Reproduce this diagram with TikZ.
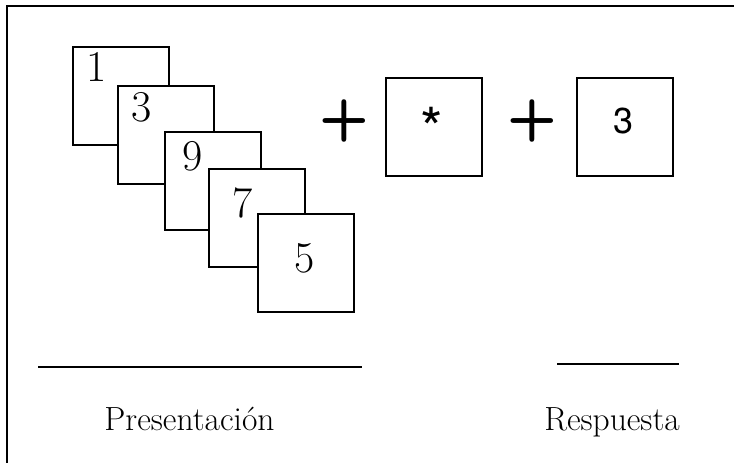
\documentclass[tikz,border=0pt]{standalone}
\usepackage{fontspec}
\newfontfamily\heros{TeX Gyre Heros}
\begin{document}
\begin{tikzpicture}[x=1pt,y=-1pt,
    card/.style={draw,line width=2pt,fill=white,minimum width=96pt,minimum height=98pt,inner sep=0pt},
    digit/.style={font=\fontsize{44}{44}\selectfont,inner sep=0pt},
    sansdigit/.style={font=\heros\fontsize{36}{36}\selectfont,inner sep=0pt},
    sign/.style={font=\sffamily\bfseries\fontsize{58}{58}\selectfont,inner sep=0pt},
    caption/.style={font=\fontsize{33.5}{33.5}\selectfont,anchor=base,inner sep=0pt}]
  \useasboundingbox (0,0) rectangle (734,463);
  \draw[line width=2pt] (7,463) -- (7,6) -- (734,6);
  % stacked cards
  \draw
    (121,96) node[card] (c1){}
    (97,67) node[digit] (d1){1}
    (165.5,134.5) node[card] (c2){}
    (142,107) node[digit] (d2){3}
    (213,180.5) node[card] (c3){}
    (193,156) node[digit] (d3){9}
    (257,218) node[card] (c4){}
    (243,203) node[digit] (d4){7}
    (305.5,263) node[card] (c5){}
    (305,258) node[digit] (d5){5};
  % mask and answer
  \draw
    (344,121) node[sign] (p1){+}
    (434,127) node[card] (mask){}
    (432,128) node[font=\heros\fontsize{58}{58}\selectfont,inner sep=0pt] (star){*}
    (532,121) node[sign] (p2){+}
    (624.5,127) node[card] (ans){}
    (624,121) node[sansdigit] (d6){3};
  \draw[line width=1.5pt] (38,367) -- (362,367);
  \draw[line width=1.5pt] (557,364) -- (679,364);
  \node[caption] (pres) at (189.5,430) {Presentación};
  \node[caption] (resp) at (612,430) {Respuesta};
\end{tikzpicture}
\end{document}
